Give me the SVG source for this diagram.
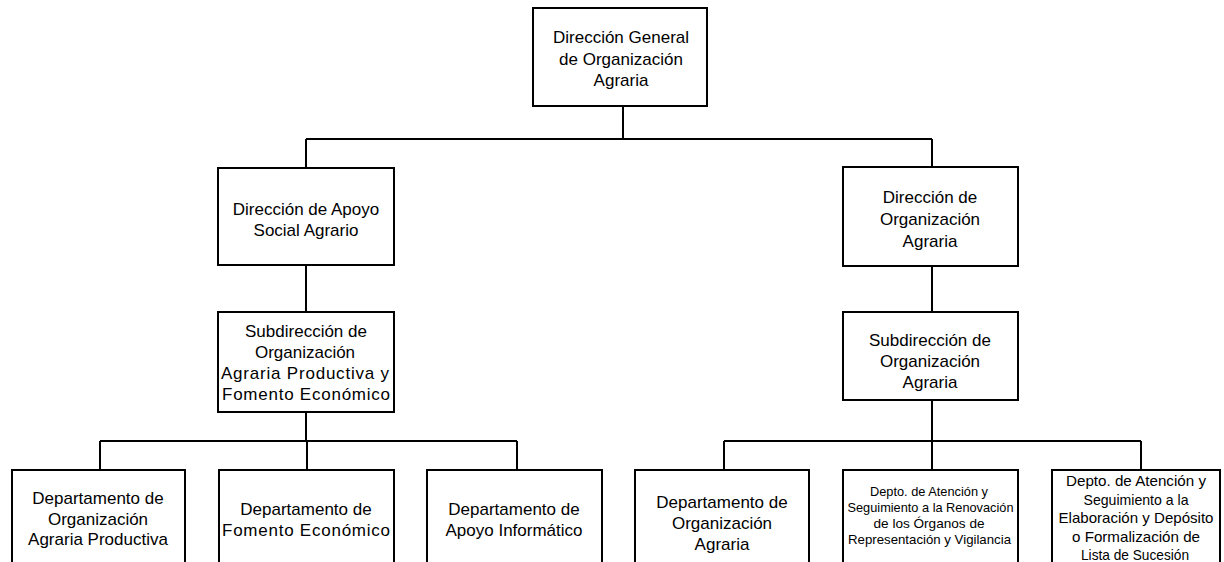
<svg xmlns="http://www.w3.org/2000/svg" width="1224" height="562" viewBox="0 0 1224 562">
<style>
rect{fill:#fff;stroke:#000;stroke-width:2}
.c path{fill:none;stroke:#000;stroke-width:2}
text{font-family:"Liberation Sans",Arial,sans-serif;font-size:17px;fill:#000;text-anchor:middle}
.s{font-size:13px}
.m{font-size:15px}
</style>
<rect x="0" y="0" width="1224" height="562" style="stroke:none"/>
<g class="c">
<path d="M623 106V139M306 139H932M306 139V168M932 139V167"/>
<path d="M306 265V312M932 266V312"/>
<path d="M306 412V441M100 441H517M100 441V470M307 441V470M517 441V470"/>
<path d="M932 400V441M724 441H1141M724 441V470M932 441V470M1141 441V470"/>
</g>
<g id="n0"><rect x="533" y="8" width="174" height="98"/>
<text x="621" y="43">Dirección General</text><text x="621" y="64.5">de Organización</text><text x="621" y="86">Agraria</text></g>
<g id="n1"><rect x="218" y="168" width="176" height="97"/>
<text x="306" y="215">Dirección de Apoyo</text><text x="306" y="236">Social Agrario</text></g>
<g id="n2"><rect x="843" y="167" width="175" height="99"/>
<text x="930" y="203">Dirección de</text><text x="930" y="225">Organización</text><text x="930" y="247">Agraria</text></g>
<g id="n3"><rect x="218" y="312" width="176" height="100"/>
<text x="306" y="337">Subdirección de</text><text x="305" y="358">Organización</text><text x="305" y="378.5" textLength="168" lengthAdjust="spacing">Agraria Productiva y</text><text x="306" y="399.5" textLength="168" lengthAdjust="spacing">Fomento Económico</text></g>
<g id="n4"><rect x="843" y="312" width="175" height="88"/>
<text x="930" y="346">Subdirección de</text><text x="930" y="367">Organización</text><text x="930" y="388">Agraria</text></g>
<g id="n5"><rect x="12" y="470" width="173" height="110"/>
<text x="98" y="503.5">Departamento de</text><text x="98" y="524.5">Organización</text><text x="98" y="545">Agraria Productiva</text></g>
<g id="n6"><rect x="219" y="470" width="175" height="110"/>
<text x="306" y="515">Departamento de</text><text x="306" y="536" textLength="168" lengthAdjust="spacing">Fomento Económico</text></g>
<g id="n7"><rect x="427" y="470" width="175" height="110"/>
<text x="514" y="515">Departamento de</text><text x="514" y="536">Apoyo Informático</text></g>
<g id="n8"><rect x="635" y="470" width="174" height="110"/>
<text x="722" y="508">Departamento de</text><text x="722" y="529">Organización</text><text x="722" y="549.5">Agraria</text></g>
<g id="n9"><rect x="843" y="470" width="175" height="110"/>
<text class="s" x="929" y="496" textLength="118" lengthAdjust="spacingAndGlyphs">Depto. de Atención y</text><text class="s" x="930.5" y="512" textLength="166" lengthAdjust="spacingAndGlyphs">Seguimiento a la Renovación</text><text class="s" x="929" y="528" textLength="111" lengthAdjust="spacingAndGlyphs">de los Órganos de</text><text class="s" x="929.5" y="544" textLength="163" lengthAdjust="spacingAndGlyphs">Representación y Vigilancia</text></g>
<g id="n10"><rect x="1052" y="470" width="168" height="110"/>
<text class="m" x="1136" y="486" textLength="140" lengthAdjust="spacingAndGlyphs">Depto. de Atención y</text><text class="m" x="1136" y="504.5" textLength="105" lengthAdjust="spacingAndGlyphs">Seguimiento a la</text><text class="m" x="1136" y="523" textLength="155" lengthAdjust="spacingAndGlyphs">Elaboración y Depósito</text><text class="m" x="1136" y="541.5" textLength="128" lengthAdjust="spacingAndGlyphs">o Formalización de</text><text class="m" x="1135" y="560" textLength="108" lengthAdjust="spacingAndGlyphs">Lista de Sucesión</text></g>
</svg>
